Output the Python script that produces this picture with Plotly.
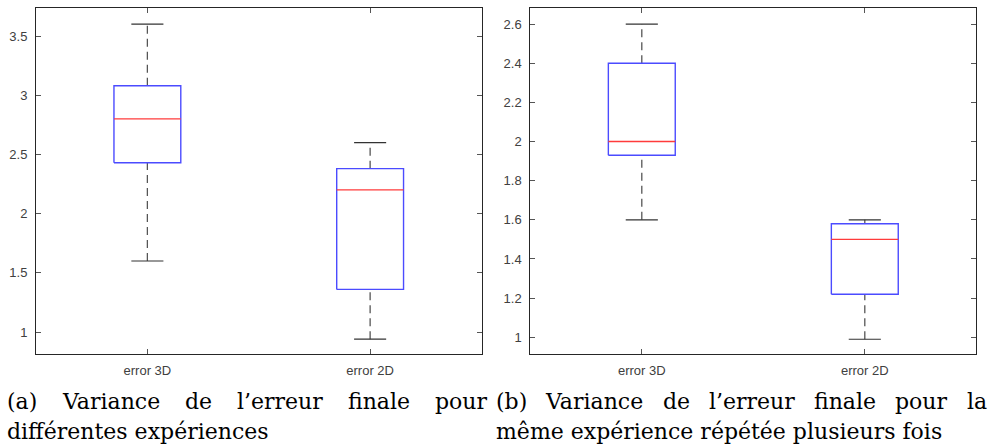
import plotly.graph_objects as go

# Box-plot statistics for each panel (whisker low, Q1, median, Q3, whisker high)
categories = ["error 3D", "error 2D"]
positions = [1, 2]

a_low = [1.60, 0.94]
a_q1 = [2.43, 1.36]
a_med = [2.80, 2.20]
a_q3 = [3.08, 2.38]
a_high = [3.60, 2.60]

b_low = [1.60, 0.99]
b_q1 = [1.93, 1.22]
b_med = [2.00, 1.50]
b_q3 = [2.40, 1.58]
b_high = [2.60, 1.60]

a_ticks = [1, 1.5, 2, 2.5, 3, 3.5]
b_ticks = [1, 1.2, 1.4, 1.6, 1.8, 2, 2.2, 2.4, 2.6]

# Caption words: (text, left edge in px) for the justified first line
caption_a1 = [("(a)", 6), ("Variance", 61), ("de", 184), ("l’erreur", 236), ("finale", 347), ("pour", 434)]
caption_a2 = "différentes expériences"
caption_b1 = [("(b)", 495), ("Variance", 544), ("de", 662), ("l’erreur", 708), ("finale", 813), ("pour", 894), ("la", 966)]
caption_b2 = "même expérience répétée plusieurs fois"

W, H = 989, 448
BOX_HW = 0.15   # half width of a box, in x units
CAP_HW = 0.072  # half width of a whisker cap

fig = go.Figure()


def add_boxes(low, q1, med, q3, high, xa, ya):
    bx, by, mx, my, wx, wy, cx, cy = [], [], [], [], [], [], [], []
    for p, lo, a, m, b, hi in zip(positions, low, q1, med, q3, high):
        bx += [p - BOX_HW, p + BOX_HW, p + BOX_HW, p - BOX_HW, p - BOX_HW, None]
        by += [a, a, b, b, a, None]
        mx += [p - BOX_HW, p + BOX_HW, None]
        my += [m, m, None]
        wx += [p, p, None, p, p, None]
        wy += [b, hi, None, lo, a, None]
        cx += [p - CAP_HW, p + CAP_HW, None, p - CAP_HW, p + CAP_HW, None]
        cy += [hi, hi, None, lo, lo, None]
    common = dict(mode="lines", xaxis=xa, yaxis=ya, showlegend=False, hoverinfo="skip")
    fig.add_trace(go.Scatter(x=wx, y=wy, line=dict(color="#555555", width=1.3, dash="8px,5px"), **common))
    fig.add_trace(go.Scatter(x=cx, y=cy, line=dict(color="#333333", width=1.2), **common))
    fig.add_trace(go.Scatter(x=bx, y=by, line=dict(color="#4b4bff", width=1.4), **common))
    fig.add_trace(go.Scatter(x=mx, y=my, line=dict(color="#ff3b3b", width=1.3), **common))


add_boxes(a_low, a_q1, a_med, a_q3, a_high, "x", "y")
add_boxes(b_low, b_q1, b_med, b_q3, b_high, "x2", "y2")

tick_font = dict(family="Liberation Sans, Arial, sans-serif", size=13, color="#404040")
axis_common = dict(
    showline=True, linecolor="#262626", linewidth=1, mirror="ticks",
    ticks="inside", ticklen=5, tickcolor="#555555", tickwidth=1,
    showgrid=False, zeroline=False, tickfont=tick_font,
)

y0 = 1 - 354.3 / H
y1 = 1 - 8 / H
fig.update_layout(
    width=W, height=H,
    margin=dict(l=0, r=0, t=0, b=0),
    paper_bgcolor="white", plot_bgcolor="white",
    xaxis=dict(domain=[36 / W, 481.5 / W], range=[0.5, 2.5], tickvals=positions,
               ticktext=categories, ticklabelstandoff=4, **axis_common),
    yaxis=dict(domain=[y0, y1], range=[0.812, 3.737], tickvals=a_ticks,
               ticktext=[f"{v:g}" for v in a_ticks], ticklabelstandoff=5, **axis_common),
    xaxis2=dict(domain=[530.3 / W, 976.3 / W], range=[0.5, 2.5], tickvals=positions,
                ticktext=categories, ticklabelstandoff=4, anchor="y2", **axis_common),
    yaxis2=dict(domain=[y0, y1], range=[0.913, 2.682], tickvals=b_ticks,
                ticktext=[f"{v:g}" for v in b_ticks], ticklabelstandoff=5, anchor="x2", **axis_common),
)

cap_font = dict(family="DejaVu Serif, serif", size=22, color="black")


def add_caption(words, line2, x2):
    for text, x in words:
        fig.add_annotation(text=text, x=x / W, y=1 - 401 / H, xref="paper", yref="paper",
                           xanchor="left", yanchor="middle", showarrow=False, font=cap_font,
                           borderpad=0)
    fig.add_annotation(text=line2, x=x2 / W, y=1 - 431 / H, xref="paper", yref="paper",
                       xanchor="left", yanchor="middle", showarrow=False, font=cap_font,
                       borderpad=0)


add_caption(caption_a1, caption_a2, 6)
add_caption(caption_b1, caption_b2, 495)

fig.write_html("out.html")
